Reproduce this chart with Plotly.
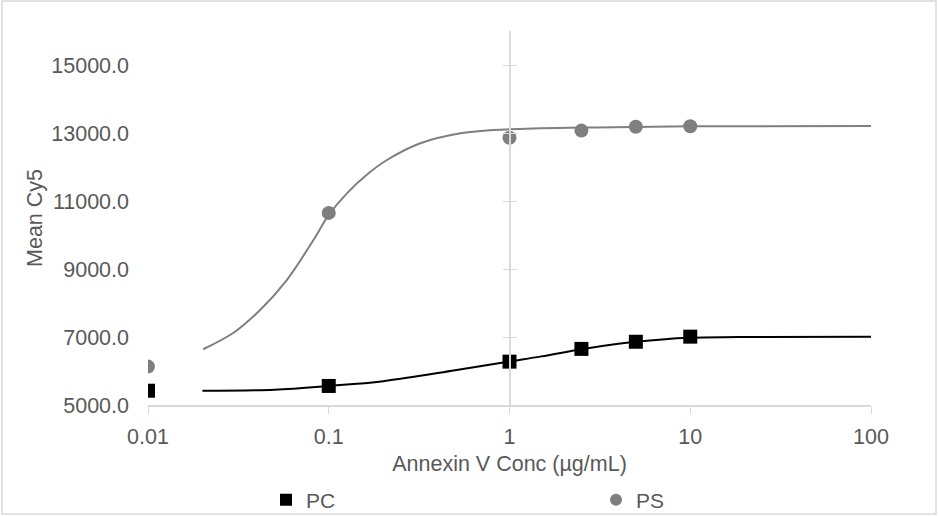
import plotly.graph_objects as go

# Measured data points
conc = [0.01, 0.1, 1, 2.5, 5, 10]
pc_vals = [5420, 5560, 6275, 6650, 6860, 7010]
ps_vals = [6130, 10650, 12860, 13070, 13185, 13200]

# Fitted curves
pc_fit_x = [0.02, 0.05, 0.1, 0.2, 0.5, 1.0, 1.5, 2.5, 4, 5, 7, 10, 20, 100]
pc_fit_y = [5420, 5450, 5560, 5700, 6020, 6280, 6430, 6640, 6800, 6860, 6930, 6975, 7000, 7010]
ps_fit_x = [0.0202, 0.0303, 0.0417, 0.0586, 0.0823, 0.1, 0.126, 0.166, 0.21, 0.321, 0.535, 0.817, 1.48, 3, 10, 100]
ps_fit_y = [6640, 7156, 7794, 8676, 9853, 10590, 11226, 11815, 12206, 12697, 12990, 13088, 13138, 13165, 13195, 13206]

y_ticks = [5000, 7000, 9000, 11000, 13000, 15000]
x_ticks = [0.01, 0.1, 1, 10, 100]
x_tick_labels = ["0.01", "0.1", "1", "10", "100"]

FONT = "Liberation Sans, Arial, sans-serif"
TXT = "#595959"
AX = "#d9d9d9"
W, H = 938, 516

fig = go.Figure()
fig.add_trace(go.Scatter(x=pc_fit_x, y=pc_fit_y, mode="lines", line=dict(color="#000000", width=2, shape="spline"),
                         showlegend=False, hoverinfo="skip"))
fig.add_trace(go.Scatter(x=ps_fit_x, y=ps_fit_y, mode="lines", line=dict(color="#7f7f7f", width=2, shape="spline"),
                         showlegend=False, hoverinfo="skip"))
fig.add_trace(go.Scatter(x=conc, y=pc_vals, mode="markers", name="PC", legend="legend",
                         marker=dict(symbol="square", size=14, color="#000000")))
fig.add_trace(go.Scatter(x=conc, y=ps_vals, mode="markers", name="PS", legend="legend2",
                         marker=dict(symbol="circle", size=14, color="#7f7f7f")))
# empty traces to attach the crossing axis at x=1
fig.add_trace(go.Scatter(x=[], y=[], yaxis="y2", showlegend=False))
fig.add_trace(go.Scatter(x=[], y=[], yaxis="y3", showlegend=False))

yr = [5000, 16000]
leg_common = dict(orientation="h", xref="container", yref="container", xanchor="left",
                  y=1 - 500 / H, yanchor="middle", itemwidth=30,
                  itemsizing="constant", font=dict(size=21, color=TXT), bgcolor="rgba(0,0,0,0)")
fig.update_layout(
    width=W, height=H,
    margin=dict(l=148, r=67, t=31, b=111),
    paper_bgcolor="white", plot_bgcolor="white",
    font=dict(family=FONT, size=21.5, color=TXT),
    xaxis=dict(type="log", range=[-2, 2], tickvals=x_ticks, ticktext=x_tick_labels,
               showgrid=False, zeroline=False, showline=True, linecolor=AX, linewidth=2,
               ticks="outside", ticklen=7, tickcolor=AX, tickwidth=1, ticklabelstandoff=4,
               automargin=False,
               title=dict(text="Annexin V Conc (µg/mL)", standoff=8, font=dict(size=21.5, color=TXT)),
               tickfont=dict(size=21.5, color=TXT)),
    yaxis=dict(range=yr, tickvals=y_ticks, tickformat=".1f", showgrid=False, zeroline=False,
               showline=False, ticks="", ticklabelstandoff=18, automargin=False,
               title=dict(text="Mean Cy5", standoff=2, font=dict(size=21.5, color=TXT)),
               tickfont=dict(size=21.5, color=TXT)),
    yaxis2=dict(range=yr, overlaying="y", anchor="free", position=0.5, tickvals=y_ticks,
                showticklabels=False, showgrid=False, zeroline=False, showline=True,
                linecolor=AX, linewidth=1.5, ticks="outside", ticklen=6, tickcolor=AX, automargin=False),
    yaxis3=dict(range=yr, overlaying="y", anchor="free", position=0.5, tickvals=y_ticks,
                showticklabels=False, showgrid=False, zeroline=False, showline=False,
                ticks="inside", ticklen=6, tickcolor=AX, automargin=False),
    legend=dict(x=266 / W, **leg_common),
    legend2=dict(x=596 / W, **leg_common),
    shapes=[dict(type="rect", xref="paper", yref="paper",
                 x0=(2 - 148) / 723, x1=(936 - 148) / 723,
                 y0=(405 - 514) / 374, y1=(405 - 1) / 374,
                 line=dict(color=AX, width=1.5), fillcolor="rgba(0,0,0,0)", layer="below")],
)

fig.write_html("out.html", config={"displayModeBar": False},
               post_script="document.body.style.margin='0';")
